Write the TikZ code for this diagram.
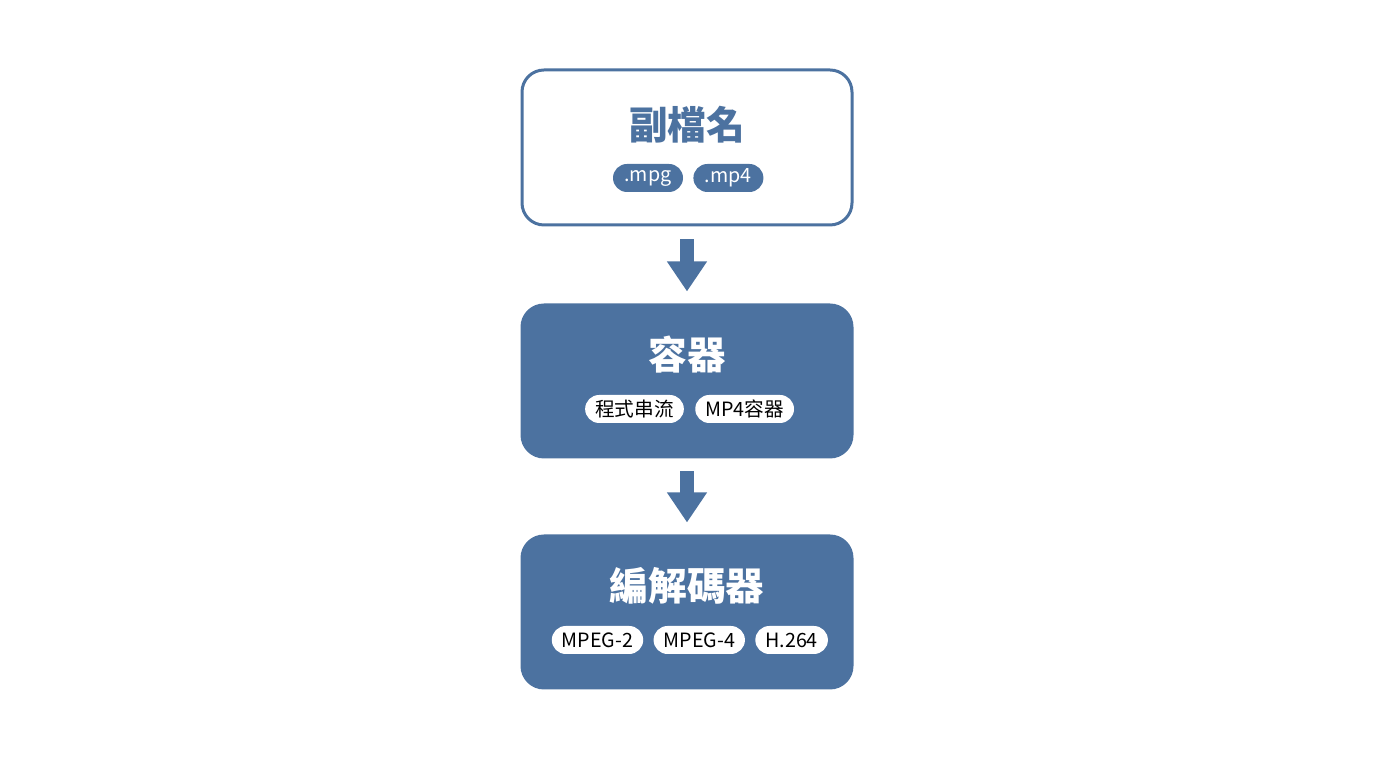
\documentclass[tikz,border=0pt]{standalone}
\usepackage{fontspec}
\setmainfont{Noto Sans CJK TC}
\usetikzlibrary{positioning,arrows.meta}
\definecolor{boxblue}{HTML}{4C72A0}
\tikzset{
    stage/.style={rounded corners=0.22cm, minimum width=3.3cm, minimum height=1.52cm, line width=0.03cm, draw=boxblue},
    title/.style={font=\fontsize{11pt}{13pt}\selectfont\bfseries},
    pill/.style={rounded corners=0.14cm, minimum height=0.28cm, inner xsep=0.1cm, inner ysep=0.04cm, font=\fontsize{5.6pt}{6pt}\selectfont},
    flow/.style={line width=0.14cm, draw=boxblue, -{Triangle[width=0.38cm,length=0.3cm]}, shorten <=0.13cm, shorten >=0.12cm}
}
\begin{document}
\begin{tikzpicture}
    \useasboundingbox (0,0) rectangle (13.76,7.68);

    % stages
    \node[stage, fill=white, minimum height=1.55cm] (ext) at (6.87,6.205) {};
    \node[stage, fill=boxblue] (cont) at (6.87,3.87) {};
    \node[stage, fill=boxblue] (codec) at (6.87,1.56) {};

    % titles
    \node[title, text=boxblue] (extT) at (6.87,6.43) {副檔名};
    \node[title, text=white] (contT) at (6.87,4.13) {容器};
    \node[title, text=white] (codecT) at (6.87,1.82) {編解碼器};

    % pills
    \node[pill, fill=boxblue, text=white, minimum width=0.7cm] (mpg) at (6.48,5.9) {.mpg};
    \node[pill, fill=boxblue, text=white, minimum width=0.7cm, right=0.09cm of mpg] (mpf) {.mp4};
    \node[pill, fill=white, text=black, minimum width=0.95cm] (ps) at (6.345,3.59) {程式串流};
    \node[pill, fill=white, text=black, minimum width=0.96cm, right=0.1cm of ps] (mpc) {MP4容器};
    \node[pill, fill=white, text=black, minimum width=0.91cm] (mpa) at (5.975,1.28) {MPEG-2};
    \node[pill, fill=white, text=black, minimum width=0.89cm, right=0.09cm of mpa] (mpb) {MPEG-4};
    \node[pill, fill=white, text=black, minimum width=0.72cm, right=0.09cm of mpb] (hh) {H.264};

    % arrows
    \draw[flow] (ext.south) -- (cont.north);
    \draw[flow] (cont.south) -- (codec.north);
\end{tikzpicture}
\end{document}
